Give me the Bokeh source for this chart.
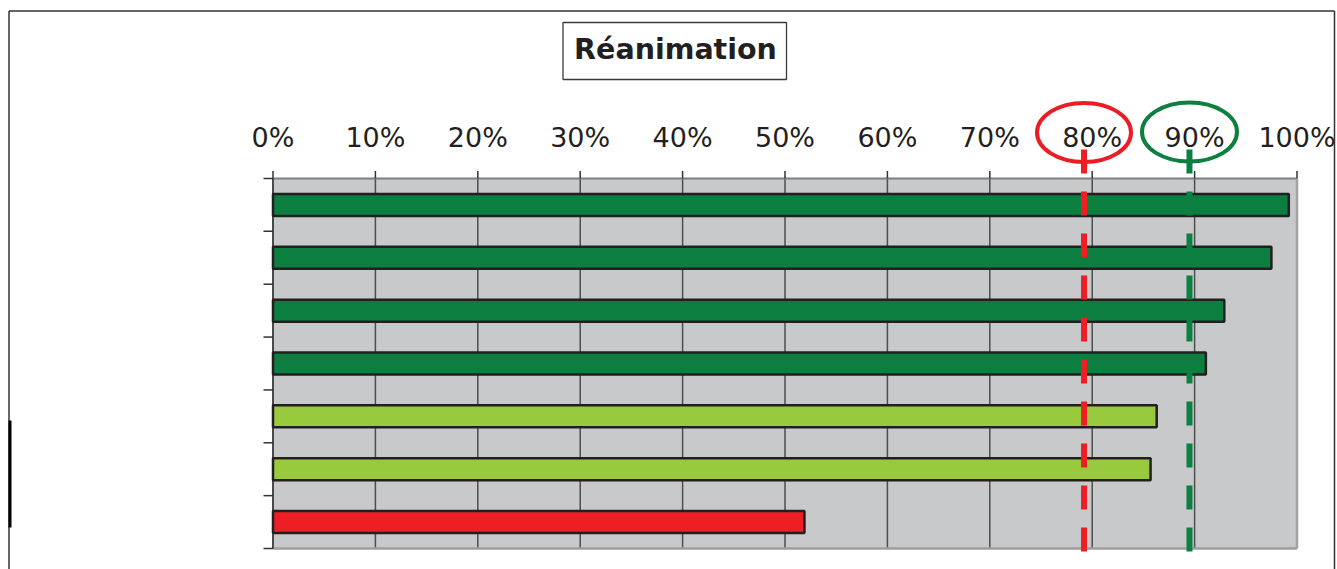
import numpy as np
from bokeh.plotting import figure
from bokeh.models import Range1d
from bokeh.core.properties import value
from bokeh.embed import file_html
from bokeh.resources import INLINE

# ---------------- data ----------------
title_text = "Réanimation"
categories = ["A", "B", "C", "D", "E", "F", "G"]          # unlabeled rows, top to bottom
values = [99.2, 97.5, 92.9, 91.1, 86.3, 85.7, 51.9]       # percent
tick_values = [0, 10, 20, 30, 40, 50, 60, 70, 80, 90, 100]
tick_labels = ["0%", "10%", "20%", "30%", "40%", "50%", "60%", "70%", "80%", "90%", "100%"]
threshold_low = 79.2    # red target line (as drawn)
threshold_high = 89.5   # green target line (as drawn)

# ---------------- layout helpers ----------------
W, H = 1337, 569
CANVAS_LEFT, CANVAS_TOP = 0, 0
PAGE_X0 = 272.5          # page x of 0 %
PX_PER_PCT = 10.24
PAGE_Y_TOP = 178.0       # page y of top of plot area
n = len(values)
ROW_PX = 370.0 / n


def xd(px):
    return (px - PAGE_X0) / PX_PER_PCT


def yd(py):
    return -0.5 + (py - PAGE_Y_TOP) / ROW_PX


DARK_GREEN = "#0c7f40"
LIGHT_GREEN = "#99c93c"
RED = "#ed1f24"
INK = "#231f20"
FONT = "DejaVu Sans"

colors = [DARK_GREEN if v >= threshold_high else (LIGHT_GREEN if v >= threshold_low else RED) for v in values]
rows = np.arange(n)

p = figure(width=W, height=H, output_backend="svg", toolbar_location=None,
           x_axis_location=None, y_axis_location=None, min_border=0,
           x_range=Range1d(xd(CANVAS_LEFT), xd(CANVAS_LEFT + W)),
           y_range=Range1d(yd(CANVAS_TOP + H), yd(CANVAS_TOP)))
p.outline_line_color = None
p.background_fill_color = "white"
p.border_fill_color = "white"
p.grid.visible = False
p.xgrid.grid_line_color = None
p.ygrid.grid_line_color = None

top, bottom = -0.5, n - 0.5

# plot area background
p.quad(left=[tick_values[0]], right=[tick_values[-1]], top=[top], bottom=[bottom],
       fill_color="#c8c9cb", line_color=None)

# vertical grid lines
inner = tick_values[1:-1]
p.segment(x0=inner, y0=[top] * len(inner), x1=inner, y1=[bottom] * len(inner),
          line_color="#4d4d4d", line_width=1.5)

# plot-area borders
p.segment(x0=[0], y0=[top], x1=[100], y1=[top], line_color="#7f7f7f", line_width=2)
p.segment(x0=[100], y0=[top], x1=[100], y1=[bottom], line_color="#a3a3a3", line_width=2.5)
p.segment(x0=[0], y0=[bottom], x1=[100], y1=[bottom], line_color="#9d9d9d", line_width=2.5)
p.segment(x0=[0], y0=[top], x1=[0], y1=[bottom], line_color="#4a4a4a", line_width=2)

# x ticks (above)
tick_len_y = 7.5 / ROW_PX
p.segment(x0=tick_values, y0=[top - tick_len_y] * len(tick_values),
          x1=tick_values, y1=[top] * len(tick_values), line_color="#333333", line_width=1.5)

# y ticks at row boundaries
bounds = list(np.arange(n + 1) - 0.5)
tick_len_x = 9.5 / PX_PER_PCT
p.segment(x0=[-tick_len_x] * len(bounds), y0=bounds, x1=[0] * len(bounds), y1=bounds,
          line_color="#333333", line_width=1.5)

# bars
p.hbar(y=rows, left=0, right=values, height=22 / ROW_PX,
       fill_color=colors, line_color=INK, line_width=2.5)

# circles around the target labels
p.ellipse(x=[threshold_low], y=[yd(132)], width=94, height=59,
          width_units="screen", height_units="screen",
          fill_color=None, line_color="#ec1c24", line_width=4)
p.ellipse(x=[threshold_high], y=[yd(131.5)], width=95, height=59,
          width_units="screen", height_units="screen",
          fill_color=None, line_color="#0d7f3f", line_width=4)

# target dashed lines
p.segment(x0=[threshold_low], y0=[yd(149)], x1=[threshold_low], y1=[yd(552)],
          line_color=RED, line_width=6, line_dash="24 18", line_cap="butt")
p.segment(x0=[threshold_high], y0=[yd(149)], x1=[threshold_high], y1=[yd(552)],
          line_color="#0b8040", line_width=6, line_dash="24 18", line_cap="butt")

# tick labels
p.text(x=tick_values, y=[yd(136.5)] * len(tick_values), text=tick_labels,
       text_font=value(FONT), text_font_size=value("27px"), text_color=INK,
       text_align="center", text_baseline="middle")

# title box
p.quad(left=[xd(562.5)], right=[xd(786)], top=[yd(22)], bottom=[yd(79)],
       fill_color="white", line_color="#3a3a3a", line_width=1.3)
p.text(x=[xd(675)], y=[yd(49)], text=[title_text],
       text_font=value(FONT), text_font_size=value("28.5px"), text_font_style="bold",
       text_color=INK, text_align="center", text_baseline="middle")

# outer frame
fl, fr, ft, fb = xd(8.5), xd(1334), yd(10.5), yd(CANVAS_TOP + H + 5)
p.segment(x0=[fl, fl, fr], y0=[ft, ft, ft], x1=[fr, fl, fr], y1=[ft, fb, fb],
          line_color="#333333", line_width=1.5)
p.segment(x0=[xd(9.5)], y0=[yd(420)], x1=[xd(9.5)], y1=[yd(527)],
          line_color="black", line_width=3)

open("out.html", "w").write(file_html(p, INLINE))
